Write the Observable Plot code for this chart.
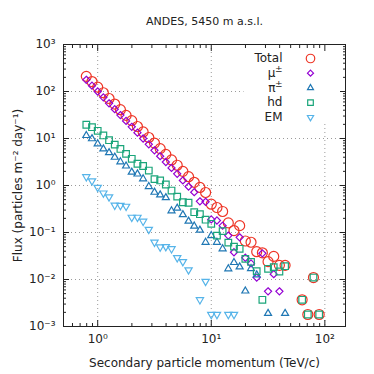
<!DOCTYPE html>
<html><head><meta charset="utf-8">
<script src="https://cdn.jsdelivr.net/npm/d3@7"></script>
<script src="https://cdn.jsdelivr.net/npm/@observablehq/plot@0.6"></script>
<style>html,body{margin:0;padding:0;background:#fff;} svg{display:block;}</style>
</head><body><div id="chart"></div>
<script>
// Bin centres (TeV/c)
const momentum = [0.794,0.891,1.0,1.122,1.259,1.413,1.585,1.778,1.995,2.239,2.512,2.818,3.162,3.548,3.981,4.467,5.012,5.623,6.31,7.079,7.943,8.913,10.0,11.22,12.59,14.13,15.85,17.78,19.95,22.39,25.12,28.18,31.62,35.48,39.81,44.67,50.12,56.23,63.1,70.79,79.43,89.13];
const totalFlux = [210,163,124,94,71,54,41,31,24,18,13.8,10.5,8.0,6.1,4.6,3.5,2.7,2.0,1.54,1.17,0.91,0.71,0.40,0.34,0.28,0.16,0.11,0.14,0.066,0.062,0.039,0.037,0.024,0.031,0.020,0.020,null,null,0.0037,0.0018,0.011,0.0018];
const muonFlux = [177,133,100,75,56,42,31.5,23.7,17.7,13.3,10.0,7.5,5.6,4.2,3.16,2.37,1.77,1.28,0.95,0.72,0.46,0.45,0.19,0.18,0.14,0.086,0.038,0.079,0.029,0.022,0.011,0.036,0.0056,0.013,0.0056];
const pionFlux = [11.6,9.9,7.7,6.0,5.0,4.0,3.2,2.6,1.92,1.76,1.39,0.95,0.72,0.63,0.55,0.29,0.33,0.24,0.174,0.137,0.112,0.062,0.086,0.062,0.045,0.0169,0.023,0.0185,0.0057,0.0171,0.0125,null,0.0019,null,null,0.0019];
const hadronFlux = [19.6,17.4,14.6,11.6,9.2,7.4,6.0,4.7,3.7,2.9,2.6,2.08,1.37,1.28,1.05,0.78,0.58,0.44,0.43,0.27,0.245,0.187,0.153,0.086,0.107,0.061,0.050,0.045,0.0275,0.0236,0.015,0.0037,0.0169,0.0183,0.0148,0.0192,null,null,0.0037,0.0018,0.011,0.0018];
const emFlux = [1.53,1.25,0.91,0.69,0.57,0.38,0.375,0.36,0.21,0.21,0.173,0.116,0.062,0.049,0.050,0.045,0.029,0.024,0.016,null,0.0037,0.0091,0.0018,0.0018,null,0.0018,0.0018];

const legendBase = ["Total","μ","π","hd","EM"];
const legendSup = ["","±","±","",""];
const seriesColors = ["#ee3526","#9400d3","#1f77b4","#1aa57a","#56b4e9"];

const xMajorTicks = [1,10,100];
const xMinorTicks = [0.6,0.7,0.8,0.9,2,3,4,5,6,7,8,9,20,30,40,50,60,70,80,90];
const yMajorTicks = [1e-3,1e-2,1e-1,1,10,100,1000];
const yGridTicks = [1e-2,1e-1,1,10,100];
const yMinorTicks = [];
[1e-3,1e-2,1e-1,1,10,100].forEach(d => [2,3,4,5,6,7,8,9].forEach(m => yMinorTicks.push(+(d*m).toPrecision(3))));

const title = "ANDES, 5450 m a.s.l.";
const xLabel = "Secondary particle momentum (TeV/c)";
const yLabel = "Flux (particles m⁻² day⁻¹)";

const supMap = {"-":"⁻","0":"⁰","1":"¹","2":"²","3":"³","4":"⁴","5":"⁵","6":"⁶","7":"⁷","8":"⁸","9":"⁹"};
const pow10 = d => "10" + String(Math.round(Math.log10(d))).split("").map(c => supMap[c]).join("");

const triangleDown = {draw(context, size) {
  const y = Math.sqrt(size / (3 * Math.sqrt(3)));
  context.moveTo(0, 2 * y);
  context.lineTo(-Math.sqrt(3) * y, -y);
  context.lineTo(Math.sqrt(3) * y, -y);
  context.closePath();
}};
const symbols = ["circle","diamond2","triangle","square2",triangleDown];
const radii = [5,3.2,2.6,4.2,2.7];
const seriesValues = [totalFlux, muonFlux, pionFlux, hadronFlux, emFlux];

const rows = (values) => values.map((v, i) => ({x: momentum[i], y: v})).filter(d => d.y != null);

const marks = [
  Plot.gridX({ticks: xMajorTicks, stroke: "#9a9a9a", strokeOpacity: 1, strokeDasharray: "1,3"}),
  Plot.gridY({ticks: yGridTicks, stroke: "#9a9a9a", strokeOpacity: 1, strokeDasharray: "1,3"}),
  Plot.frame({fill: "white", stroke: null, insetLeft: 180, insetBottom: 203})
];
seriesValues.forEach((vals, i) => {
  marks.push(Plot.dot(rows(vals), {x: "x", y: "y", symbol: symbols[i], r: radii[i], stroke: seriesColors[i], fill: "none", strokeWidth: 1.2}));
});
legendBase.forEach((name, i) => {
  const dy = 14 + 14.7 * i;
  const hasSup = legendSup[i] !== "";
  marks.push(Plot.text([name], {frameAnchor: "top-right", dx: hasSup ? -70 : -63, dy, textAnchor: "end", lineAnchor: "middle", fontSize: 12, fill: "#222"}));
  if (hasSup) marks.push(Plot.text([legendSup[i]], {frameAnchor: "top-right", dx: -63, dy: dy - 4, textAnchor: "end", lineAnchor: "middle", fontSize: 9, fill: "#222"}));
  marks.push(Plot.dot([name], {frameAnchor: "top-right", dx: -35, dy, symbol: symbols[i], r: radii[i] * 0.85, stroke: seriesColors[i], fill: "none", strokeWidth: 1.2}));
});
marks.push(
  Plot.axisX({anchor: "bottom", ticks: xMajorTicks, tickSize: -6, tickFormat: () => "", label: null}),
  Plot.axisX({anchor: "bottom", ticks: xMinorTicks, tickSize: -3, tickFormat: () => "", label: null}),
  Plot.axisX({anchor: "top", ticks: xMajorTicks, tickSize: -6, tickFormat: () => "", label: null}),
  Plot.axisX({anchor: "top", ticks: xMinorTicks, tickSize: -3, tickFormat: () => "", label: null}),
  Plot.axisY({anchor: "left", ticks: yMajorTicks, tickSize: -6, tickFormat: () => "", label: null}),
  Plot.axisY({anchor: "left", ticks: yMinorTicks, tickSize: -3, tickFormat: () => "", label: null}),
  Plot.axisY({anchor: "right", ticks: yMajorTicks, tickSize: -6, tickFormat: () => "", label: null}),
  Plot.axisY({anchor: "right", ticks: yMinorTicks, tickSize: -3, tickFormat: () => "", label: null}),
  Plot.axisX({anchor: "bottom", ticks: xMajorTicks, tickSize: 0, tickPadding: 8, tickFormat: pow10, fontSize: 12, label: null, fill: "#222"}),
  Plot.axisY({anchor: "left", ticks: yMajorTicks, tickSize: 0, tickPadding: 8, tickFormat: pow10, fontSize: 12, label: null, fill: "#222"}),
  Plot.frame({stroke: "#222", strokeWidth: 1}),
  Plot.text([title], {frameAnchor: "top", dy: -23, fontSize: 11, textAnchor: "middle", lineAnchor: "middle", fill: "#222"}),
  Plot.text([xLabel], {frameAnchor: "bottom", dy: 37, fontSize: 12, textAnchor: "middle", lineAnchor: "middle", fill: "#222"}),
  Plot.text([yLabel], {frameAnchor: "left", dx: -45, rotate: -90, fontSize: 12, textAnchor: "middle", lineAnchor: "middle", fill: "#222"})
);

const chart = Plot.plot({
  width: 374,
  height: 374,
  marginLeft: 63,
  marginRight: 29,
  marginTop: 44,
  marginBottom: 48,
  style: {fontFamily: "DejaVu Sans", fontSize: "12px", background: "white", color: "#222"},
  x: {type: "log", domain: [0.5, 152]},
  y: {type: "log", domain: [1e-3, 1e3]},
  marks
});
document.getElementById("chart").appendChild(chart);
</script>
</body></html>
